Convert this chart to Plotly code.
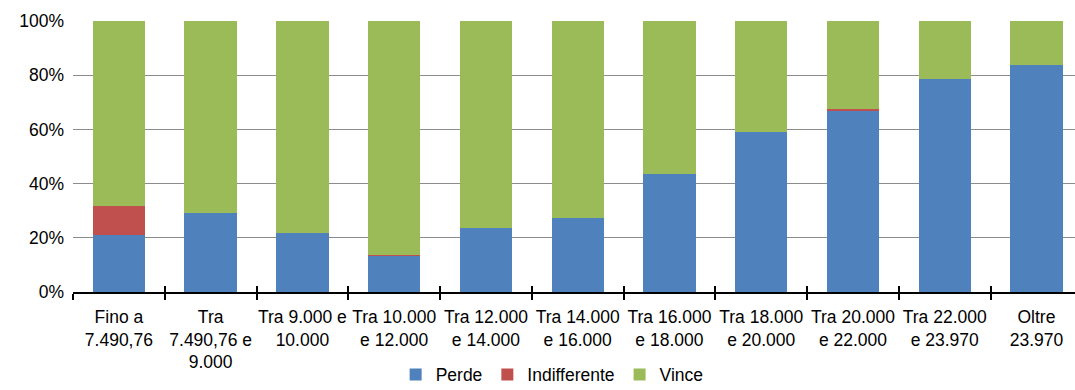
import plotly.graph_objects as go
import numpy as np

categories = [
    "Fino a<br>7.490,76",
    "Tra<br>7.490,76 e<br>9.000",
    "Tra 9.000 e<br>10.000",
    "Tra 10.000<br>e 12.000",
    "Tra 12.000<br>e 14.000",
    "Tra 14.000<br>e 16.000",
    "Tra 16.000<br>e 18.000",
    "Tra 18.000<br>e 20.000",
    "Tra 20.000<br>e 22.000",
    "Tra 22.000<br>e 23.970",
    "Oltre<br>23.970",
]
perde = [21.0, 29.2, 21.9, 13.3, 23.7, 27.2, 43.7, 59.2, 66.9, 78.6, 83.9]
indifferente = [10.8, 0.0, 0.0, 0.3, 0.0, 0.0, 0.0, 0.0, 0.7, 0.0, 0.0]
vince = [68.2, 70.8, 78.1, 86.4, 76.3, 72.8, 56.3, 40.8, 32.4, 21.4, 16.1]
y_ticks = [0, 20, 40, 60, 80, 100]
y_ticklabels = ["0%", "20%", "40%", "60%", "80%", "100%"]

FONT = "Liberation Sans, Arial, sans-serif"
FS = 17.5
xr = [-0.5, 10.42]

fig = go.Figure()
fig.add_trace(go.Bar(x=categories, y=perde, name="Perde", marker_color="#4F81BD", width=0.57,
                     marker_line_width=0))
fig.add_trace(go.Bar(x=categories, y=indifferente, name="Indifferente", marker_color="#C0504D", width=0.57,
                     marker_line_width=0))
fig.add_trace(go.Bar(x=categories, y=vince, name="Vince", marker_color="#9BBB59", width=0.57,
                     marker_line_width=0))
fig.add_trace(go.Scatter(x=[0], y=[0], xaxis="x2", mode="markers", marker_opacity=0,
                         showlegend=False, hoverinfo="skip"))

fig.update_layout(
    barmode="stack",
    width=1075, height=390,
    margin=dict(l=73, r=0, t=21, b=98, autoexpand=False),
    paper_bgcolor="white", plot_bgcolor="white",
    font=dict(family=FONT, size=FS, color="#000000"),
    xaxis=dict(
        type="category", range=xr, automargin=False, tickangle=0,
        showline=True, linecolor="#000000", linewidth=1.5,
        ticks="outside", tickson="boundaries", ticklen=6, tickcolor="#000000", tickwidth=1.5,
        showgrid=False, tickfont=dict(family=FONT, size=FS), ticklabelstandoff=8,
    ),
    xaxis2=dict(
        overlaying="x", anchor="y", type="linear", range=xr,
        tickvals=list(np.arange(-0.5, 11, 1.0)), ticks="inside", ticklen=6,
        tickcolor="#000000", tickwidth=1.5,
        showticklabels=False, showgrid=False, showline=False, zeroline=False,
    ),
    yaxis=dict(
        range=[0, 100], tickvals=y_ticks, ticktext=y_ticklabels, automargin=False,
        showgrid=True, gridcolor="#8c8c8c", gridwidth=1.2,
        zeroline=False, showline=False, ticks="",
        tickfont=dict(family=FONT, size=FS), ticklabelstandoff=8,
    ),
    legend=dict(
        orientation="h", x=0.322, xanchor="left", y=-0.305, yanchor="middle",
        font=dict(family=FONT, size=FS), traceorder="normal",
        bgcolor="rgba(0,0,0,0)",
    ),
)

fig.write_html("out.html")
